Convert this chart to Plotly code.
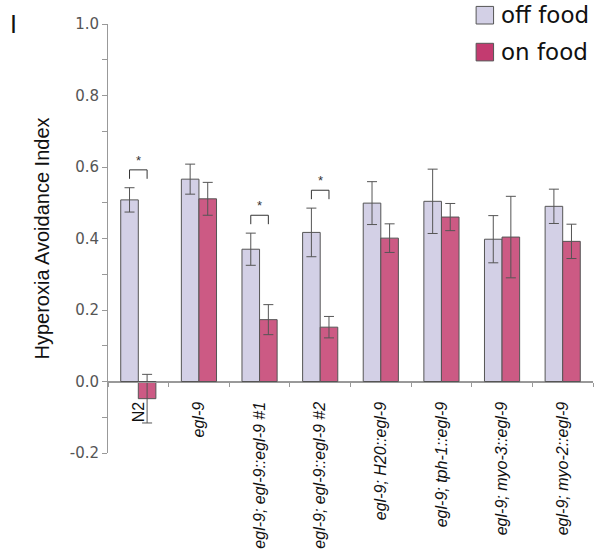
import plotly.graph_objects as go

# Strains tested and mean hyperoxia avoidance index (with SEM)
strains = [
    "N2",
    "<i>egl-9</i>",
    "<i>egl-9; egl-9::egl-9 #1</i>",
    "<i>egl-9; egl-9::egl-9 #2</i>",
    "<i>egl-9; H20::egl-9</i>",
    "<i>egl-9; tph-1::egl-9</i>",
    "<i>egl-9; myo-3::egl-9</i>",
    "<i>egl-9; myo-2::egl-9</i>",
]
off_food = [0.508, 0.566, 0.370, 0.417, 0.499, 0.504, 0.398, 0.490]
off_err = [0.034, 0.042, 0.045, 0.068, 0.060, 0.090, 0.066, 0.048]
on_food = [-0.048, 0.511, 0.173, 0.152, 0.401, 0.460, 0.404, 0.392]
on_err = [0.068, 0.046, 0.042, 0.030, 0.040, 0.038, 0.114, 0.048]
significant = [0, 2, 3]  # strains with a significant off/on difference

y_tick_values = [-0.2, 0.0, 0.2, 0.4, 0.6, 0.8, 1.0]
y_tick_labels = ["-0.2", "0.0", "0.2", "0.4", "0.6", "0.8", "1.0"]

OFF_COLOR = "#d3d0e6"
ON_COLOR = "#cc5a84"
EDGE = "#555555"
BARGAP = 0.42

fig = go.Figure()
fig.add_trace(go.Bar(
    name="off food", x=strains, y=off_food,
    marker=dict(color=OFF_COLOR, line=dict(color=EDGE, width=1)),
    error_y=dict(type="data", array=off_err, color="#555555", thickness=1, width=5),
))
fig.add_trace(go.Bar(
    name="on food", x=strains, y=on_food,
    marker=dict(color=ON_COLOR, line=dict(color=EDGE, width=1)),
    error_y=dict(type="data", array=on_err, color="#555555", thickness=1, width=5),
))

# Significance brackets joining the paired bars
half = (1 - BARGAP) / 4
shapes = []
annotations = []
for i in significant:
    top = max(off_food[i] + off_err[i], on_food[i] + on_err[i]) + 0.05
    x0, x1 = i - half, i + half
    shapes.append(dict(
        type="path", xref="x", yref="y",
        path=f"M {x0},{top - 0.025} L {x0},{top} L {x1},{top} L {x1},{top - 0.025}",
        line=dict(color="#333333", width=1),
    ))
    annotations.append(dict(
        x=i, y=top, xref="x", yref="y", text="*", showarrow=False,
        yanchor="bottom", font=dict(size=13, color="#333333", family="Liberation Sans"),
    ))

# Legend drawn as swatches with labels
legend_items = [("off food", OFF_COLOR, 1.0), ("on food", "#c33b70", 0.914)]
for label, color, y0 in legend_items:
    shapes.append(dict(
        type="rect", xref="paper", yref="paper",
        x0=0.759, x1=0.795, y0=y0, y1=y0 + 0.041,
        fillcolor=color, line=dict(color="#555555", width=1),
    ))
    annotations.append(dict(
        x=0.806, y=y0 + 0.02, xref="paper", yref="paper", text=label,
        showarrow=False, xanchor="left", yanchor="middle",
        font=dict(size=23, color="#111111", family="DejaVu Sans"),
    ))

# Panel letter
annotations.append(dict(
    x=(13 - 108) / 485, y=(453 - 24) / 429, xref="paper", yref="paper",
    text="I", showarrow=False, xanchor="center", yanchor="middle",
    font=dict(size=25, color="#111111", family="Liberation Sans"),
))

fig.update_layout(
    width=596, height=556,
    margin=dict(l=108, r=3, t=24, b=103),
    paper_bgcolor="white", plot_bgcolor="white",
    barmode="group", bargap=BARGAP, bargroupgap=0,
    showlegend=False,
    shapes=shapes, annotations=annotations,
    font=dict(family="Liberation Sans", color="#222222"),
)
fig.update_xaxes(
    anchor="free", position=0.2 / 1.2,
    showline=True, linecolor="#999999", linewidth=1,
    ticks="outside", tickson="boundaries", ticklen=4, tickcolor="#999999",
    tickangle=-90, ticklabelstandoff=13,
    tickfont=dict(size=16, color="#111111", family="Liberation Sans"),
    showgrid=False, zeroline=False,
)
fig.update_yaxes(
    range=[-0.2, 1.0], tickvals=y_tick_values, ticktext=y_tick_labels,
    showline=True, linecolor="#999999", linewidth=1,
    ticks="outside", ticklen=5, tickcolor="#999999",
    minor=dict(dtick=0.1, ticks="outside", ticklen=5, tickcolor="#999999"),
    tickfont=dict(size=15, color="#555555", family="DejaVu Sans"),
    title=dict(text="Hyperoxia Avoidance Index", standoff=14,
               font=dict(size=20, color="#111111", family="Liberation Sans")),
    showgrid=False, zeroline=True, zerolinecolor="#999999", zerolinewidth=1,
)

fig.write_html("out.html")
